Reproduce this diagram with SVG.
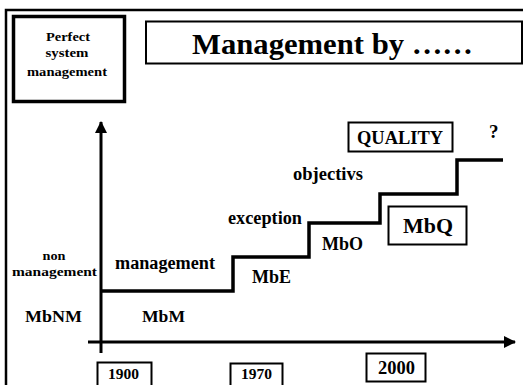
<svg xmlns="http://www.w3.org/2000/svg" width="523" height="385" viewBox="0 0 523 385" font-family="'Liberation Serif', 'Times New Roman', Times, 'DejaVu Serif', serif">
<style>
  text { font-family: 'Liberation Serif', 'Times New Roman', Times, 'DejaVu Serif', serif; font-weight: bold; fill: #000; }
  .box { fill: #fff; stroke: #000; stroke-width: 2; }
  .axis { stroke: #000; stroke-width: 3; fill: none; }
  .stair { stroke: #000; stroke-width: 3.5; fill: none; stroke-linejoin: miter; }
  .s18 { font-size: 18px; }
  .small { font-size: 12px; }
  .year { font-size: 15.5px; }
</style>
<defs>
  <marker id="arrow" markerWidth="12" markerHeight="12" viewBox="0 0 12 12" refX="11" refY="6" orient="auto" markerUnits="userSpaceOnUse">
    <path d="M0,0 L12,6 L0,12 Z" fill="#000"/>
  </marker>
</defs>
<rect width="523" height="385" fill="#fff"/>
<g id="frame">
  <path d="M6,385 V10 H523" stroke="#000" stroke-width="2.5" fill="none"/>
</g>
<g id="perfect">
  <rect x="13.5" y="16.5" width="111" height="85" fill="#fff" stroke="#000" stroke-width="3.5"/>
  <text class="small" x="68" y="41" text-anchor="middle" textLength="44" lengthAdjust="spacingAndGlyphs">Perfect</text>
  <text class="small" x="67" y="57" text-anchor="middle" textLength="43" lengthAdjust="spacingAndGlyphs">system</text>
  <text class="small" x="67" y="76" text-anchor="middle" textLength="80" lengthAdjust="spacingAndGlyphs">management</text>
</g>
<g id="title">
  <rect x="146" y="21.5" width="376" height="42" class="box"/>
  <text x="192" y="54" font-size="30" textLength="281" lengthAdjust="spacingAndGlyphs">Management by ……</text>
</g>
<g id="connectors">
  <line class="axis" x1="101" y1="353" x2="101" y2="122" marker-end="url(#arrow)"/>
  <line class="axis" x1="88" y1="342" x2="515" y2="342" marker-end="url(#arrow)"/>
  <path class="stair" d="M101,291 H233 V257 H309 V223 H380 V194 H457 V160 H503"/>
</g>
<g id="nonmanagement">
  <text class="small" x="54" y="260" text-anchor="middle" textLength="23" lengthAdjust="spacingAndGlyphs">non</text>
  <text class="small" x="54.5" y="276" text-anchor="middle" textLength="85" lengthAdjust="spacingAndGlyphs">management</text>
</g>
<g id="mbnm"><text x="25" y="322" font-size="17" textLength="57" lengthAdjust="spacingAndGlyphs">MbNM</text></g>
<g id="mbm"><text x="142" y="322" font-size="17" textLength="43" lengthAdjust="spacingAndGlyphs">MbM</text></g>
<g id="management"><text class="s18" x="115" y="269" textLength="100" lengthAdjust="spacingAndGlyphs">management</text></g>
<g id="mbe"><text class="s18" x="252" y="283" textLength="39" lengthAdjust="spacingAndGlyphs">MbE</text></g>
<g id="exception"><text class="s18" x="228" y="224" textLength="74" lengthAdjust="spacingAndGlyphs">exception</text></g>
<g id="mbo"><text class="s18" x="322" y="250" textLength="41" lengthAdjust="spacingAndGlyphs">MbO</text></g>
<g id="objectivs"><text class="s18" x="293" y="180" textLength="70" lengthAdjust="spacingAndGlyphs">objectivs</text></g>
<g id="quality">
  <rect x="348.5" y="122.5" width="104" height="29" class="box"/>
  <text class="s18" x="357" y="144" textLength="86" lengthAdjust="spacingAndGlyphs">QUALITY</text>
</g>
<g id="question"><text x="489" y="138" font-size="19">?</text></g>
<g id="mbq">
  <rect x="388.5" y="206.5" width="78" height="38" class="box"/>
  <text x="403" y="233" font-size="22" textLength="50" lengthAdjust="spacingAndGlyphs">MbQ</text>
</g>
<g id="y1900">
  <rect x="97.5" y="362.5" width="54" height="30" class="box"/>
  <text class="year" x="108" y="379" textLength="31" lengthAdjust="spacingAndGlyphs">1900</text>
</g>
<g id="y1970">
  <rect x="230.5" y="363.5" width="52" height="30" class="box"/>
  <text class="year" x="241" y="379" textLength="31" lengthAdjust="spacingAndGlyphs">1970</text>
</g>
<g id="y2000">
  <rect x="366.5" y="353.5" width="59" height="28" class="box"/>
  <text x="378" y="374" font-size="18" textLength="37" lengthAdjust="spacingAndGlyphs">2000</text>
</g>
</svg>
